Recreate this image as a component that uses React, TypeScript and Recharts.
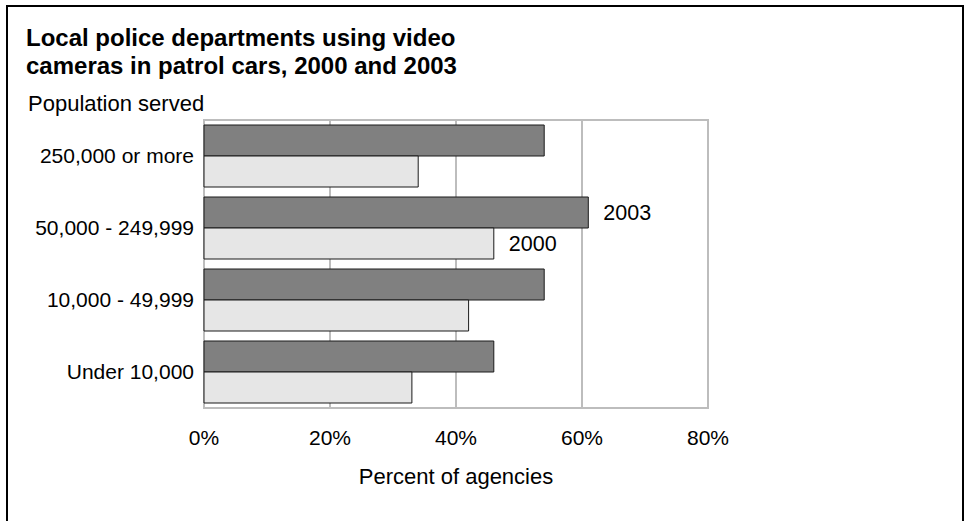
import React from "react";
import {
  BarChart,
  Bar,
  XAxis,
  YAxis,
  CartesianGrid,
  ReferenceArea,
  LabelList,
  Label,
} from "recharts";

const categories = ["250,000 or more", "50,000 - 249,999", "10,000 - 49,999", "Under 10,000"];
const values2003 = [54, 61, 54, 46];
const values2000 = [34, 46, 42, 33];
const xTicks = [0, 20, 40, 60, 80];
const labelIndex = 1;

const data = categories.map((c, i) => ({ name: c, y2003: values2003[i], y2000: values2000[i] }));

const FONT = "'Liberation Sans', Arial, Helvetica, sans-serif";

const makeLabel = (text: string) => (props: any) => {
  const { x, y, width, height, index } = props;
  if (index !== labelIndex) return null;
  return (
    <text
      x={Number(x) + Number(width) + 15}
      y={Number(y) + Number(height) / 2}
      dominantBaseline="central"
      fontSize={21.5}
      fontFamily={FONT}
      fill="#000"
    >
      {text}
    </text>
  );
};

export default function App() {
  return (
    <div
      style={{
        position: "absolute",
        left: 0,
        top: 0,
        width: 969,
        height: 521,
        overflow: "hidden",
        background: "#fff",
        fontFamily: FONT,
      }}
    >
      <div
        style={{
          position: "absolute",
          left: 6,
          top: 5,
          width: 954,
          height: 560,
          border: "2px solid #000",
        }}
      />
      <div
        style={{
          position: "absolute",
          left: 26,
          top: 24,
          fontSize: 24,
          fontWeight: "bold",
          lineHeight: "28px",
          color: "#000",
          whiteSpace: "nowrap",
        }}
      >
        Local police departments using video
        <br />
        cameras in patrol cars, 2000 and 2003
      </div>
      <div
        style={{
          position: "absolute",
          left: 28,
          top: 92,
          fontSize: 22,
          lineHeight: "24px",
          color: "#000",
          whiteSpace: "nowrap",
        }}
      >
        Population served
      </div>
      <div style={{ position: "absolute", left: 0, top: 0 }}>
        <BarChart
          width={969}
          height={521}
          data={data}
          layout="vertical"
          margin={{ top: 120, right: 261, bottom: 23, left: 0 }}
          barCategoryGap={5}
          barGap={0}
        >
          <CartesianGrid horizontal={false} vertical={true} stroke="#bdbdbd" strokeWidth={2} />
          <ReferenceArea x1={0} x2={80} fill="none" stroke="#bdbdbd" strokeWidth={2} />
          <XAxis
            type="number"
            domain={[0, 80]}
            ticks={xTicks}
            tickFormatter={(v) => `${v}%`}
            axisLine={false}
            tickLine={false}
            tickSize={0}
            tickMargin={22}
            height={90}
            tick={{ fontSize: 21, fontFamily: FONT, fill: "#000" }}
            interval={0}
          >
            <Label
              value="Percent of agencies"
              position="insideBottom"
              offset={14}
              style={{ fontSize: 22, fontFamily: FONT, fill: "#000" }}
            />
          </XAxis>
          <YAxis
            type="category"
            dataKey="name"
            width={204}
            axisLine={false}
            tickLine={false}
            tickSize={0}
            tickMargin={10}
            tick={{ fontSize: 21, fontFamily: FONT, fill: "#000" }}
            interval={0}
          />
          <Bar dataKey="y2003" name="2003" fill="#808080" stroke="#1a1a1a" strokeWidth={1} isAnimationActive={false}>
            <LabelList dataKey="y2003" content={makeLabel("2003")} />
          </Bar>
          <Bar dataKey="y2000" name="2000" fill="#e6e6e6" stroke="#1a1a1a" strokeWidth={1} isAnimationActive={false}>
            <LabelList dataKey="y2000" content={makeLabel("2000")} />
          </Bar>
        </BarChart>
      </div>
    </div>
  );
}
